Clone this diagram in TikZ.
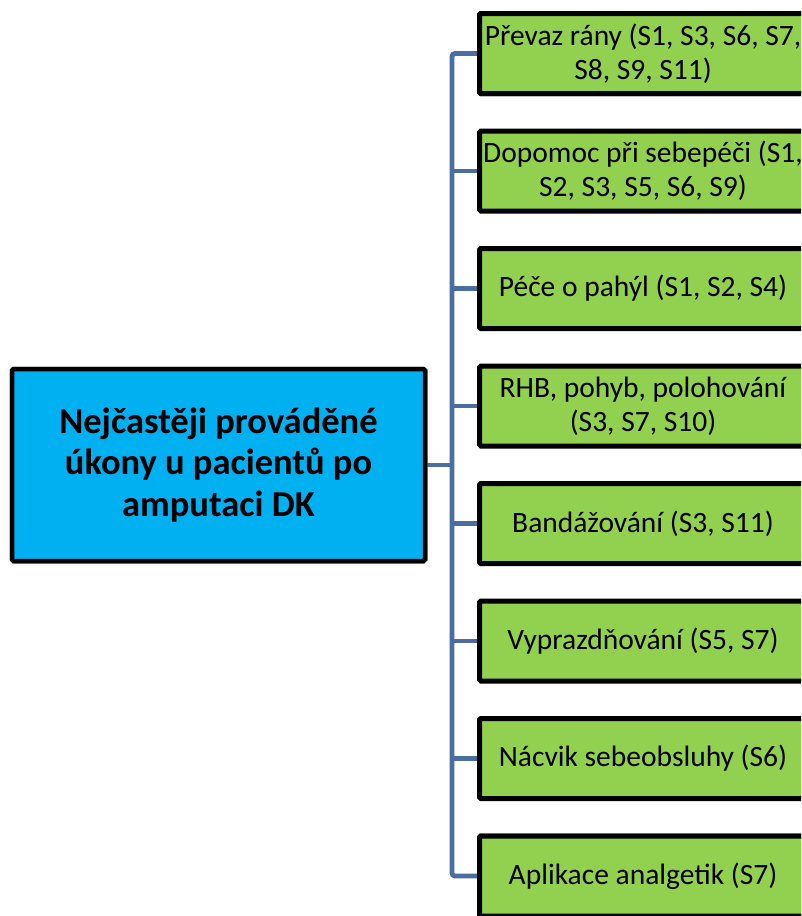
\documentclass[tikz,border=0pt]{standalone}
\usepackage{fontspec}
\setmainfont{Carlito}
\definecolor{leafgreen}{HTML}{92D050}
\definecolor{rootblue}{HTML}{00B0F0}
\definecolor{linkblue}{HTML}{4A6EA0}
\begin{document}
\begin{tikzpicture}[x=1pt,y=-1pt,
  rootbox/.style={draw=black, line width=4.5pt, fill=rootblue, rounded corners=1.5pt,
    minimum width=413pt, minimum height=192pt, align=center, inner sep=0pt,
    font=\fontsize{36.5}{41.5}\selectfont\bfseries},
  leafbox/.style={draw=black, line width=5pt, fill=leafgreen, rounded corners=1.5pt,
    minimum width=327pt, minimum height=80pt, align=center, inner sep=0pt,
    font=\fontsize{29.5}{34}\selectfont},
  link/.style={draw=linkblue, line width=4.8pt, rounded corners=3pt}]
\useasboundingbox (0,0) rectangle (801,916);
\clip (0,0) rectangle (801,916);
\fill[white] (0,0) rectangle (801,916);

\coordinate (trunk) at (452,0);

\node[rootbox] (root) at (218.5,465) {Nejčastěji prováděné\\úkony u pacientů po\\amputaci DK};

\node[leafbox] (b1) at (643,53.5)  {Převaz rány (S1, S3, S6, S7,\\S8, S9, S11)};
\node[leafbox] (b2) at (643,171)   {Dopomoc při sebepéči (S1,\\S2, S3, S5, S6, S9)};
\node[leafbox] (b3) at (643,288.5) {Péče o pahýl (S1, S2, S4)};
\node[leafbox] (b4) at (643,406)   {RHB, pohyb, polohování\\(S3, S7, S10)};
\node[leafbox] (b5) at (643,523.5) {Bandážování (S3, S11)};
\node[leafbox] (b6) at (643,641)   {Vyprazdňování (S5, S7)};
\node[leafbox] (b7) at (643,758.5) {Nácvik sebeobsluhy (S6)};
\node[leafbox] (b8) at (643,876)   {Aplikace analgetik (S7)};

% trunk with the outer branches
\draw[link] (b1.west) -- (b1.west -| trunk) -- (b8.west -| trunk) -- (b8.west);
% inner branches
\foreach \b in {b2,b3,b4,b5,b6,b7}
  \draw[link] (\b.west -| trunk) -- (\b.west);
\draw[link] (root.east) -- (root.east -| trunk);

% boxes on top of the connector ends
\node[rootbox] at (root) {Nejčastěji prováděné\\úkony u pacientů po\\amputaci DK};
\foreach \b/\t in {b1/{Převaz rány (S1, S3, S6, S7,\\S8, S9, S11)},
                   b8/{Aplikace analgetik (S7)}}
  \node[leafbox] at (\b) {\t};
\end{tikzpicture}
\end{document}
